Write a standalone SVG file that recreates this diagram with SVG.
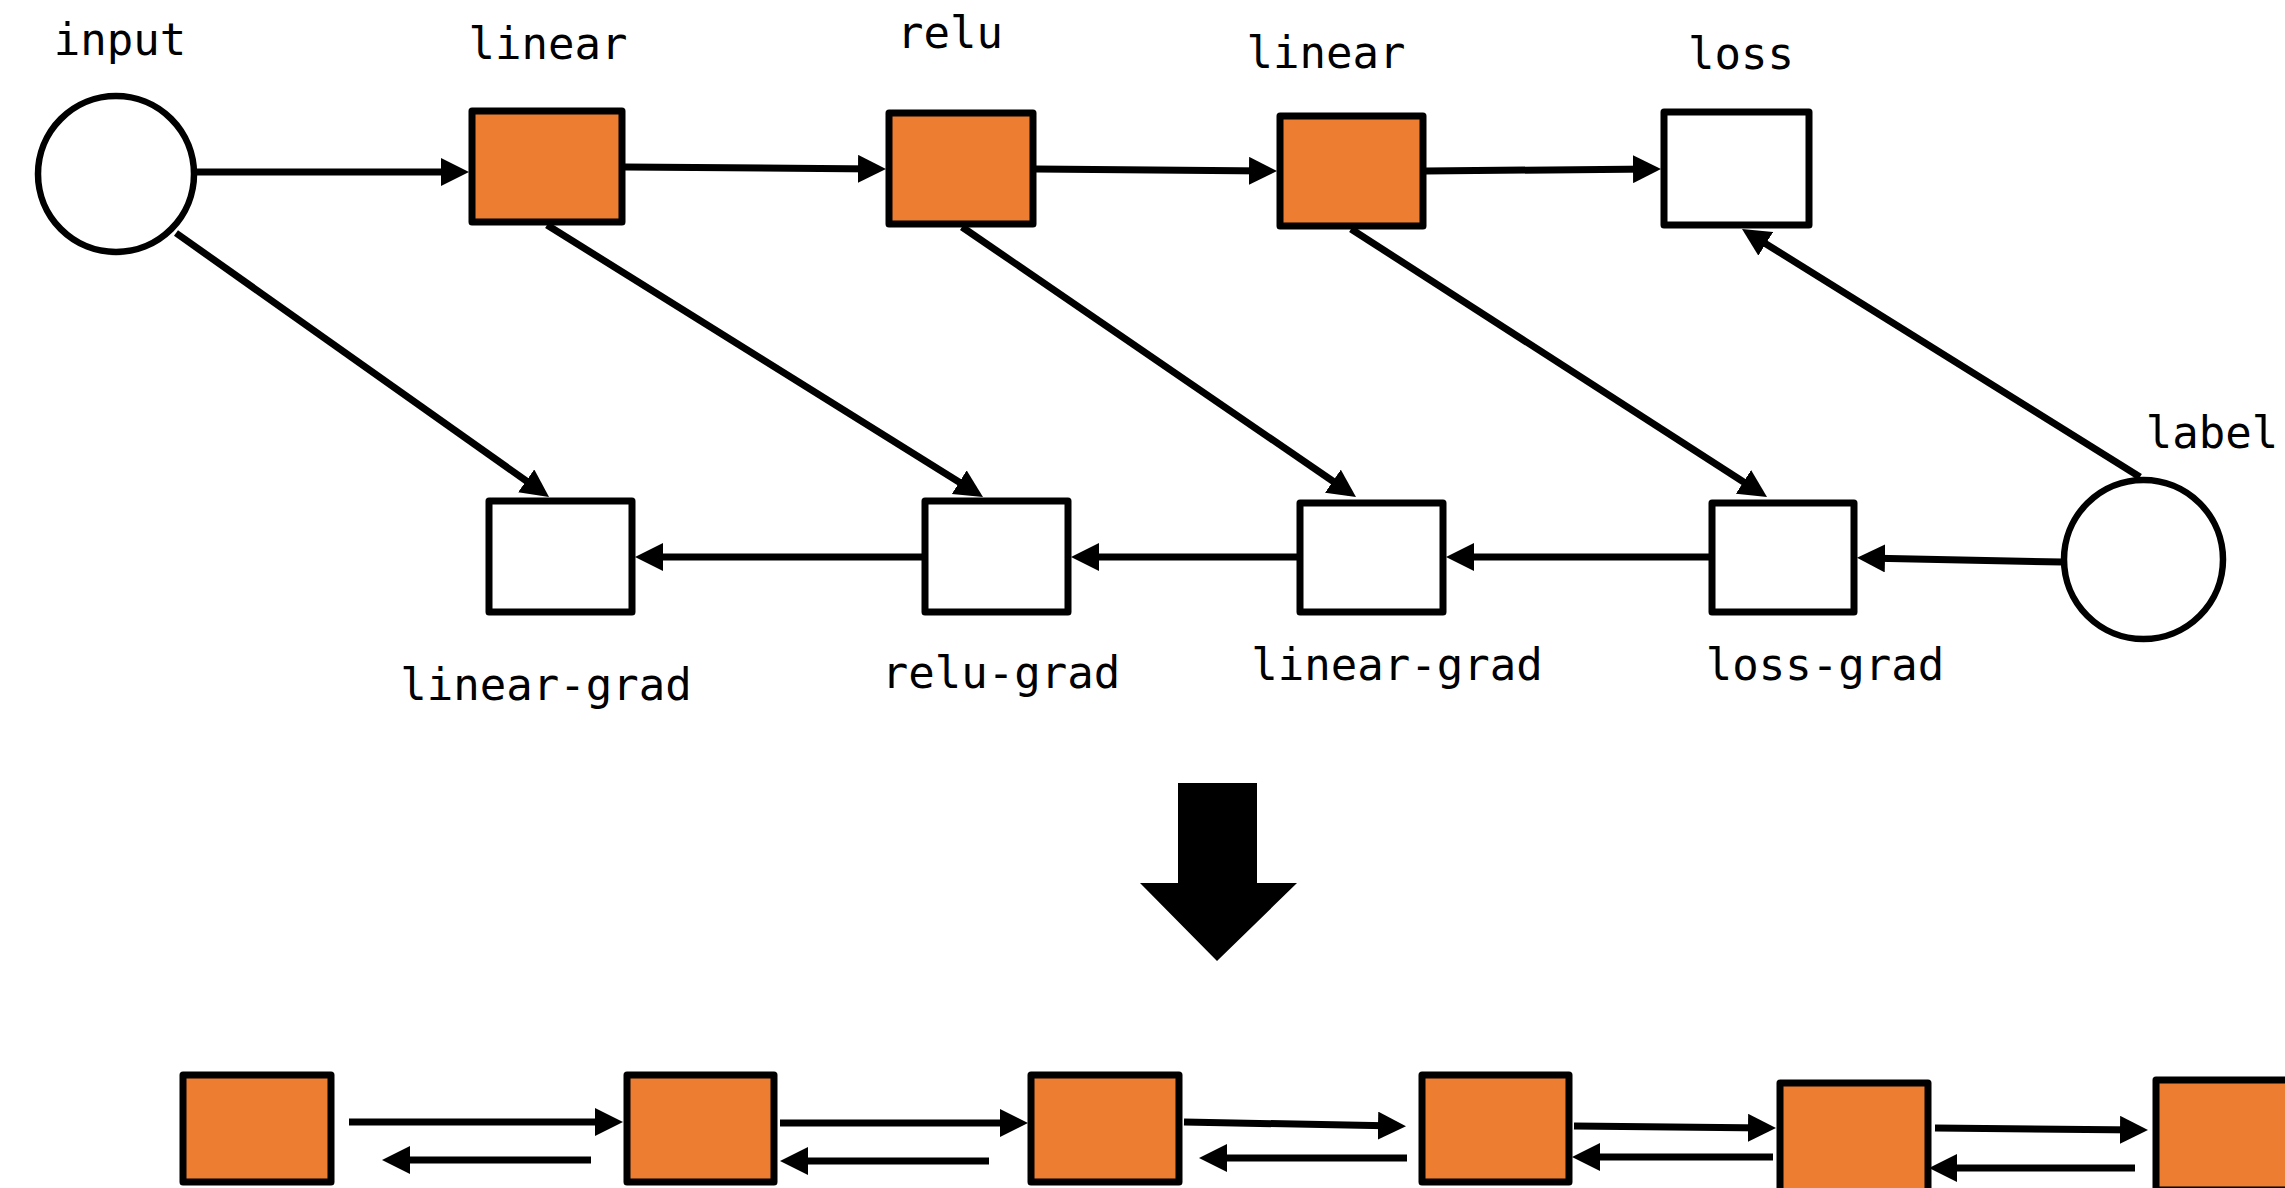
<svg xmlns="http://www.w3.org/2000/svg" width="2285" height="1188" viewBox="0 0 2285 1188">
  <style>
    .op { fill: #ED7D31; stroke: #000; stroke-width: 7; stroke-linejoin: round; }
    .grad { fill: #fff; stroke: #000; stroke-width: 7; stroke-linejoin: round; }
    .io { fill: #fff; stroke: #000; stroke-width: 6.5; }
    .lbl { font-family: "DejaVu Sans Mono", "Liberation Mono", monospace; font-size: 44px; fill: #000; text-anchor: middle; }
    .edge { fill: none; stroke: #000; stroke-width: 7; marker-end: url(#head); }
  </style>
  <defs>
    <marker id="head" markerUnits="userSpaceOnUse" markerWidth="28" markerHeight="28" viewBox="0 0 28 28" refX="20" refY="14" orient="auto">
      <path d="M0,0 L28,14 L0,28 Z" fill="#000"/>
    </marker>
  </defs>
  <rect width="2285" height="1188" fill="#fff"/>

  <!-- connectors -->
  <g id="connectors">
    <!-- forward pass -->
    <line class="edge" x1="197" y1="172" x2="461" y2="172"/>
    <line class="edge" x1="625" y1="167" x2="878" y2="169"/>
    <line class="edge" x1="1036" y1="169" x2="1269" y2="171"/>
    <line class="edge" x1="1426" y1="171" x2="1653" y2="169"/>
    <line class="edge" x1="2140" y1="477" x2="1748.8" y2="233.2"/>
    <!-- forward values feeding the gradient ops -->
    <line class="edge" x1="176" y1="233" x2="542.5" y2="492.4"/>
    <line class="edge" x1="547" y1="225" x2="976.2" y2="492.8"/>
    <line class="edge" x1="962" y1="227" x2="1349.4" y2="492.5"/>
    <line class="edge" x1="1351" y1="229" x2="1760.3" y2="492.7"/>
    <!-- backward pass -->
    <line class="edge" x1="2062" y1="562" x2="1865" y2="558"/>
    <line class="edge" x1="1709" y1="557" x2="1454" y2="557"/>
    <line class="edge" x1="1297" y1="557" x2="1079" y2="557"/>
    <line class="edge" x1="922" y1="557" x2="643" y2="557"/>
    <!-- pipelined chain -->
    <line class="edge" x1="349" y1="1122" x2="615" y2="1122"/>
    <line class="edge" x1="591" y1="1160" x2="390" y2="1160"/>
    <line class="edge" x1="780" y1="1123" x2="1020" y2="1123"/>
    <line class="edge" x1="989" y1="1161" x2="788" y2="1161"/>
    <line class="edge" x1="1184" y1="1122" x2="1398" y2="1126"/>
    <line class="edge" x1="1407" y1="1158" x2="1207" y2="1158"/>
    <line class="edge" x1="1574" y1="1126" x2="1768" y2="1128"/>
    <line class="edge" x1="1773" y1="1157" x2="1580" y2="1157"/>
    <line class="edge" x1="1935" y1="1128" x2="2140" y2="1130"/>
    <line class="edge" x1="2135" y1="1168" x2="1937" y2="1168"/>
  </g>

  <!-- transformation arrow -->
  <polygon id="transform-arrow" points="1178,783 1257,783 1257,883 1297,883 1217,961 1140,883 1178,883" fill="#000"/>

  <!-- graph nodes -->
  <g id="input">
    <circle class="io" cx="116" cy="174" r="78"/>
    <text class="lbl" x="120" y="55">input</text>
  </g>
  <g id="linear-1">
    <rect class="op" x="472" y="111" width="150" height="111"/>
    <text class="lbl" x="548" y="59">linear</text>
  </g>
  <g id="relu">
    <rect class="op" x="889" y="113" width="144" height="111"/>
    <text class="lbl" x="950" y="48">relu</text>
  </g>
  <g id="linear-2">
    <rect class="op" x="1280" y="116" width="143" height="110"/>
    <text class="lbl" x="1326" y="68">linear</text>
  </g>
  <g id="loss">
    <rect class="grad" x="1664" y="112" width="145" height="113"/>
    <text class="lbl" x="1741" y="69">loss</text>
  </g>
  <g id="label">
    <circle class="io" cx="2143.5" cy="559.5" r="79.5"/>
    <text class="lbl" x="2212" y="448">label</text>
  </g>
  <g id="linear-grad-1">
    <rect class="grad" x="489" y="501" width="143" height="111"/>
    <text class="lbl" x="546" y="700">linear-grad</text>
  </g>
  <g id="relu-grad">
    <rect class="grad" x="925" y="501" width="143" height="111"/>
    <text class="lbl" x="1001" y="688">relu-grad</text>
  </g>
  <g id="linear-grad-2">
    <rect class="grad" x="1300" y="503" width="143" height="109"/>
    <text class="lbl" x="1397" y="680">linear-grad</text>
  </g>
  <g id="loss-grad">
    <rect class="grad" x="1712" y="503" width="142" height="109"/>
    <text class="lbl" x="1825" y="680">loss-grad</text>
  </g>

  <!-- pipelined stages -->
  <g id="stage-1"><rect class="op" x="183" y="1075" width="148" height="107"/></g>
  <g id="stage-2"><rect class="op" x="627" y="1075" width="147" height="107"/></g>
  <g id="stage-3"><rect class="op" x="1031" y="1075" width="148" height="107"/></g>
  <g id="stage-4"><rect class="op" x="1422" y="1075" width="147" height="107"/></g>
  <g id="stage-5"><rect class="op" x="1780" y="1083" width="148" height="110"/></g>
  <g id="stage-6"><rect class="op" x="2156" y="1080" width="150" height="110"/></g>
</svg>
